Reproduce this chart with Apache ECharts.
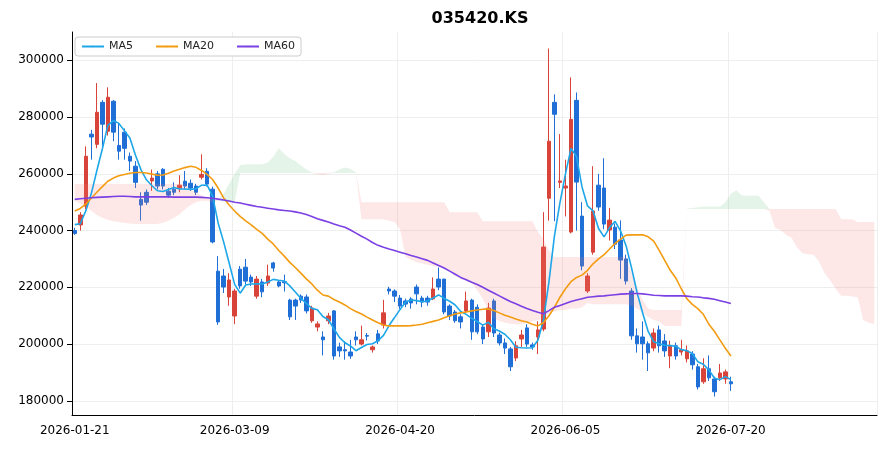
<!DOCTYPE html>
<html><head><meta charset="utf-8">
<script src="https://cdn.jsdelivr.net/npm/echarts@6/dist/echarts.min.js"></script>
<style>html,body{margin:0;padding:0;background:#fff}#c{width:890px;height:450px}</style>
</head><body><div id="c"></div>
<script>
// OHLC as [open, close, low, high]
const ohlc = [
[240000,239000,238500,241000],[242000,245500,240000,246500],[248600,266200,247500,269700],[274000,273000,265000,275500],
[270400,281700,269000,292000],[285200,277500,269700,286000],[275000,287000,273500,290500],[285600,274700,271500,286000],
[270000,268000,265000,278000],[274700,269000,265000,276000],[266200,264500,261000,267500],[262700,257000,255000,264500],
[251000,249000,243500,253500],[253500,250000,249000,254500],[257500,258500,254000,261500],[260000,255700,254500,261000],
[261600,255700,254500,262000],[253900,252500,251500,255000],[254600,253500,252500,257000],[255000,256000,253500,259500],
[257400,255700,254500,261000],[256700,255000,254000,258000],[255700,253500,252500,256500],[258800,259800,258000,266900],
[260900,256400,255500,262000],[254600,236000,235500,255500],[225700,207800,206800,231000],[224000,220100,218000,226500],
[216600,222600,213500,225000],[209900,218700,207000,219500],[226400,220500,219500,227500],[227100,222200,221000,230000],
[223600,221900,220500,224500],[216900,222900,216000,224000],[221900,218400,216500,223000],[221500,224000,220500,228000],
[228600,226800,225500,229000],[221900,220500,220000,222500],[222000,221600,218500,224500],[215500,209600,208500,216000],
[215500,213400,208500,216000],[216900,215500,214500,217500],[216600,211700,210800,217500],[208200,212700,207500,213500],
[206000,207100,204500,208000],[202500,201500,196000,204500],[208200,209900,207000,211000],[211700,195800,194500,212000],
[199000,197600,195500,200500],[198000,197600,194500,201000],[197200,195800,194800,201500],[202500,201500,199500,204500],
[200000,201500,199500,206500],[203000,202800,201300,203900],[198000,199000,197000,199500],[203600,201100,200000,205000],
[206700,211000,205500,215600],[219400,218700,217500,220200],[218700,216900,214800,219300],[216200,213400,212400,217300],
[215200,214100,213000,216000],[215900,214500,212500,216500],[220100,217700,214000,221000],[216200,214800,213000,217000],
[216200,214800,213500,217000],[215900,219400,215500,223500],[222900,220100,219000,227000],[222900,211300,210500,223000],
[213400,209900,208500,214000],[211300,208200,207500,212000],[209600,207800,205500,210500],[211700,215200,211000,218500],
[215500,204300,201500,216000],[213000,204300,203500,214000],[206000,201800,200000,207000],[204300,212700,202500,214500],
[215200,203900,202500,216000],[203200,200400,199500,204000],[200400,198600,196500,202000],[198300,192000,190500,199000],
[195100,199400,194000,201000],[201800,203200,199000,205000],[205700,200000,199000,207000],[199700,199000,198000,200500],
[202500,205000,196500,208000],[205300,234200,204500,246500],[251400,271500,243500,304200],[285200,281000,243300,288000],
[257000,257500,255000,274000],[255000,255700,245000,265000],[239500,279200,239000,294000],[285900,257100,240000,288700],
[245100,227500,226000,250000],[218700,224000,218000,225000],[232400,246900,231500,262700],[256000,248300,247000,260000],
[255000,242300,240500,265500],[240200,243700,236500,248000],[241200,235200,233500,242500],[236700,229600,223000,243600],
[230000,222200,221000,231500],[218700,202900,201500,219700],[202900,200100,197000,205500],[202500,200100,194500,208000],
[200100,196900,190500,201000],[198600,203900,197500,205500],[205000,199400,197000,206500],[201100,197600,195500,203500],
[195800,199400,191500,201200],[199400,195800,194500,200500],[197200,198000,196000,201500],[194800,197600,193500,199500],
[196500,192700,191000,197500],[192000,184900,184000,193000],[186700,191300,186000,195000],[191300,188100,187000,196000],
[187700,183200,181500,188500],[188100,189800,187000,193000],[187700,190200,186000,191000],[186700,186000,183500,188500]
];
const priorCloses = [244000, 243500, 242500, 241500];
const ma20 = [246900,247800,249300,251400,253500,255500,257400,258500,259300,259800,260200,260500,260500,260300,259900,259500,259600,260200,261000,261600,
262200,262700,262300,261200,259800,258000,255000,251500,249000,246900,245000,243400,242000,240400,239000,237000,235300,233000,231000,228800,
227000,225000,223000,221200,219000,217300,216900,215700,214800,213800,212500,211500,210600,209500,208500,207500,206700,206400,206400,206400,
206400,206500,206700,207000,207500,208000,208500,209300,210000,210600,211000,211300,211700,212000,212300,212400,211800,211000,210200,209500,
208800,208200,207800,207000,206400,207500,210000,213000,216500,219500,222000,223500,224300,226000,228300,230000,231500,233500,235500,237000,
238400,238500,238500,238500,237800,236300,233000,229500,226000,223300,219500,216000,214000,212500,210500,207000,204500,201500,198500,195800];
const ma60 = [251000,251200,251400,251600,251700,251800,251900,252000,252100,252100,252000,251900,251900,251900,251900,251900,251900,251900,251800,251800,
251800,251800,251800,251700,251600,251400,251100,250800,250400,250000,249700,249300,248900,248500,248200,247900,247600,247300,247100,246900,
246600,246200,245700,245000,244200,243600,243000,242300,241700,241200,240200,239100,238000,237000,235800,234800,234100,233500,233000,232400,
231800,231200,230700,230100,229500,228600,227700,226800,225700,224600,223500,222700,221800,221000,220000,219000,218000,217000,216000,215000,
214200,213300,212500,211800,211200,210700,211800,213000,213600,214300,215000,215500,216000,216500,216700,216900,217000,217200,217400,217600,
217700,217800,217800,217700,217500,217200,217100,217000,217000,217000,217000,216900,216700,216600,216300,216100,215800,215300,214800,214300];
const spanA = [250500,249500,248500,247000,245500,244500,243800,243300,243000,242700,242500,242300,242300,242300,242300,242300,242800,243500,244500,245800,
247500,249000,250000,250500,250500,250000,250800,253000,256500,260000,263000,263400,263400,263400,263400,264000,266000,269000,267000,265500,
264500,263000,261500,260500,259900,259600,260000,260600,261500,262200,261800,260500,244000,244000,244000,244000,244000,243500,243000,240500,
230700,229700,228800,228400,228000,227500,227300,227000,225500,224000,223000,222300,221500,219000,216000,212000,209000,208200,207500,207200,
207000,207000,207500,208000,208500,209000,211000,211500,212000,212000,212500,212500,213000,214500,214000,214000,214000,214000,214000,214000,
214000,213500,212500,211000,209500,208500,208000,206400,206400,206400,206400,247800,248000,248200,248500,248500,248500,248500,250000,253000,
254200,252400,252300,252300,252300,250000,247000,241000,240200,238500,237500,234000,232000,231700,231500,229000,225000,222500,219500,217000,
217000,216800,216500,208500,207500,207100];
const spanB = [256400,256400,256400,256400,256400,256400,256400,256400,256400,256400,256400,256400,256400,256400,256400,256400,256400,256400,256400,256400,
256400,254600,253500,252500,251500,251000,250500,250200,250000,250000,260300,260300,260300,260300,260300,260300,260300,260300,260300,260300,
260300,260300,260300,260300,260300,260300,260300,260300,260300,260300,260300,260300,250000,250000,250000,250000,250000,250000,250000,250000,
250000,250000,250000,250000,250000,250000,250000,250000,246500,246500,246500,246500,246500,246500,243300,243300,243300,243300,243300,243300,
243300,243300,243300,243300,239500,237000,233000,230700,230700,230700,230700,230700,230700,230700,230700,230700,230700,230700,230700,230700,
230700,225000,220000,215500,212500,212000,212000,212000,212000,212000,212000,247600,247600,247600,247600,247600,247600,247600,247600,247600,
247600,247600,247600,247600,247600,247600,247600,247600,247600,247600,247600,247600,247600,247600,247600,247600,247600,247600,247600,244000,
244000,244000,243000,243000,243000,243000];
const yTicks = [180000,200000,220000,240000,260000,280000,300000];
const xLabelDates = ['2026-01-21','2026-03-09','2026-04-20','2026-06-05','2026-07-20'];
const holidays = ['2026-02-16','2026-02-17','2026-02-18','2026-03-02','2026-05-01','2026-05-05','2026-05-25','2026-06-03','2026-07-17'];
const TOTAL = 146;

// trading-day categories
const dates = [];
let d = new Date(Date.UTC(2026,0,21));
while (dates.length < TOTAL) {
  const wd = d.getUTCDay();
  const s = d.toISOString().slice(0,10);
  if (wd !== 0 && wd !== 6 && holidays.indexOf(s) < 0) dates.push(s);
  d = new Date(d.getTime() + 86400000);
}
const closes = ohlc.map(r => r[1]);
const all = priorCloses.concat(closes);
const ma5 = closes.map((c, i) => { let s = 0; for (let k = i; k < i + 5; k++) s += all[k]; return Math.round(s / 5); });
const lower = spanA.map((a, i) => Math.min(a, spanB[i]));
const redBand = spanA.map((a, i) => spanB[i] > a ? spanB[i] - a : 0);
const greenBand = spanA.map((a, i) => a > spanB[i] ? a - spanB[i] : 0);
const labelIdx = xLabelDates.map(s => dates.indexOf(s));

const chart = echarts.init(document.getElementById('c'), null, {renderer: 'canvas'});
const font = 'DejaVu Sans';
chart.setOption({
  animation: false,
  backgroundColor: '#fff',
  title: {text: '035420.KS', left: 475, textAlign: 'center', top: 6,
    textStyle: {fontFamily: font, fontSize: 16, fontWeight: 'bold', color: '#000'}},
  legend: {left: 75, top: 37, data: ['MA5','MA20','MA60'], itemWidth: 22, itemHeight: 2, itemGap: 22,
    borderColor: '#ccc', borderWidth: 1, borderRadius: 3, padding: [4, 6], backgroundColor: '#fff',
    textStyle: {fontFamily: font, fontSize: 11, color: '#222'}},
  grid: {left: 72, right: 13, top: 32, bottom: 35},
  xAxis: {type: 'category', data: dates, boundaryGap: true,
    axisLine: {lineStyle: {color: '#000'}},
    axisTick: {alignWithLabel: true, interval: (i) => labelIdx.indexOf(i) >= 0, lineStyle: {color: '#000'}},
    axisLabel: {interval: (i) => labelIdx.indexOf(i) >= 0, fontFamily: font, fontSize: 12, color: '#000', margin: 10},
    splitLine: {show: true, interval: (i) => labelIdx.indexOf(i) >= 0, lineStyle: {color: '#eee'}}},
  yAxis: {type: 'value', min: 175000, max: 310000, scale: true,
    axisLine: {show: true, lineStyle: {color: '#000'}},
    axisTick: {show: true, customValues: yTicks, lineStyle: {color: '#000'}},
    axisLabel: {customValues: yTicks, formatter: (v) => String(v), fontFamily: font, fontSize: 12, color: '#000'},
    splitLine: {show: true, lineStyle: {color: '#eee'}}},
  series: [
    {type: 'line', name: 'lo', data: lower, stack: 'cloud', symbol: 'none', lineStyle: {width: 0}, silent: true},
    {type: 'line', name: 'red', data: redBand, stack: 'cloud', symbol: 'none', lineStyle: {width: 0},
      areaStyle: {color: 'rgba(244,120,120,0.25)'}, silent: true},
    {type: 'line', name: 'green', data: greenBand, stack: 'cloud', symbol: 'none', lineStyle: {width: 0},
      areaStyle: {color: 'rgba(100,190,130,0.25)'}, silent: true},
    {type: 'candlestick', name: 'price', data: ohlc, barWidth: '72%',
      itemStyle: {color: '#d9443a', color0: '#1f6fd6', borderColor: '#d9443a', borderColor0: '#1f6fd6', borderWidth: 1}},
    {type: 'line', name: 'MA5', data: ma5, symbol: 'none', lineStyle: {width: 1.6, color: '#1ea7e8'}, itemStyle: {color: '#1ea7e8'}},
    {type: 'line', name: 'MA20', data: ma20, symbol: 'none', lineStyle: {width: 1.6, color: '#f39c12'}, itemStyle: {color: '#f39c12'}},
    {type: 'line', name: 'MA60', data: ma60, symbol: 'none', lineStyle: {width: 1.6, color: '#7b3fe4'}, itemStyle: {color: '#7b3fe4'}}
  ]
});
</script></body></html>
